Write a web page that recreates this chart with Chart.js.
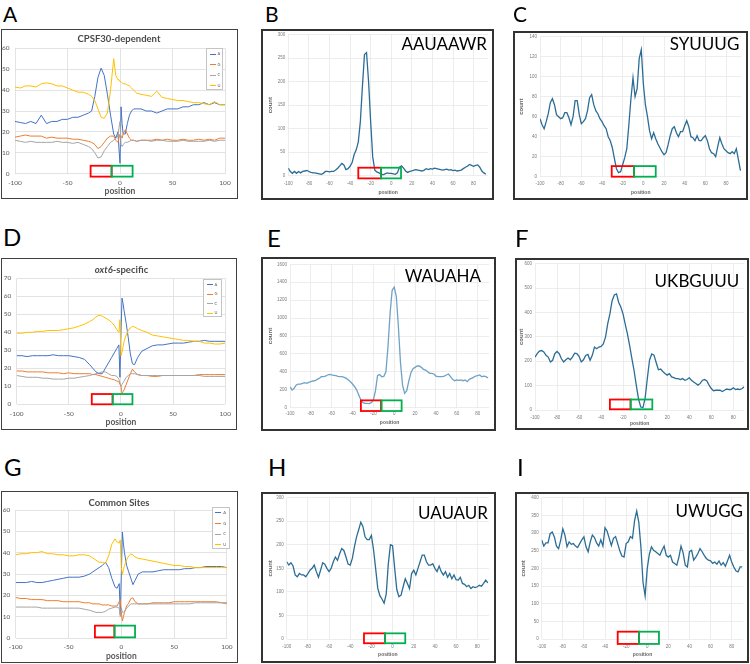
<!DOCTYPE html>
<html>
<head>
<meta charset="utf-8">
<script src="https://cdn.jsdelivr.net/npm/chart.js@4.4.1/dist/chart.umd.min.js"></script>
<style>
  body { margin: 0; width: 750px; height: 664px; position: relative; background: #fff; overflow: hidden; font-family: Lato, sans-serif; }
  .panel { position: absolute; }
  .panel canvas { position: absolute; left: 0; top: 0; }
  .frame { position: absolute; left: 0; top: 0; right: 0; bottom: 0; box-sizing: border-box; border-style: solid; pointer-events: none; }
  .lbl { position: absolute; white-space: nowrap; line-height: 1; }
  .legend { position: absolute; box-sizing: border-box; border: 0.8px solid #c4c4c4; background: #fff; }
</style>
</head>
<body>
<script>
// ---- data ----
const NUC_NAMES = ['A', 'G', 'C', 'U'];
const NUC_X_TICKS = [-100, -50, 0, 50, 100];
const MOTIF_X_TICKS = [-100, -80, -60, -40, -20, 0, 20, 40, 60, 80];

// positions used by the nucleotide profile panels (A, D, G)
const POS_NUC = [-100,-95,-90,-85,-80,-75,-70,-65,-60,-55,-50,-45,-40,-35,-30,
  -27,-24,-21,-18,-15,-12,-9,-6, -4,-2,-1,0,1,2,3, 5,7,9,11,13,16,20,
  25,30,35,40,45,50,55,60,65,70,75,80,85,90,95,100];

// positions used by the motif count panels
const POS_MOTIF = [-100,-98,-96,-94,-92,-90,-88,-86,-84,-82,-80,-78,-76,-74,-72,-70,-68,-66,-64,-62,
  -60,-58,-56,-54,-52,-50,-48,-46,-44,-42,-40,-38,-36,-34,-32,-30,-28,-26,-24,-22,
  -20,-18,-16,-14,-12,-10,-8,-6,-4,-2,0,2,4,6,8,10,12,14,16,18,
  20,22,24,26,28,30,32,34,36,38,40,42,44,46,48,50,52,54,56,58,
  60,62,64,66,68,70,72,74,76,78,80,82,84,86,88,90,92,94];

// A: CPSF30-dependent
const CPSF_A = [25,24.5,24,25,24,28,24,25,25,26,26,27,27,28,29, 30,37,46,50.5,47,38,28,19, 17,20,12,5,32,24,19, 19,24,28,30,31,31,31, 30,30,29,30,31,31,31,32,32,33,33,34,33,34,33,33];
const CPSF_G = [17.5,18,18.5,18,18,18,17,17.5,17,17,17,16.5,16.5,16,15.5, 15,14,12,13,15,17,18,18, 16,15,17,19,18,17,19, 21,19,17,16,16,15.5,16, 16,16,16.5,16,16.5,16,16,16.5,16,16,16.5,16,16.5,16,17,17];
const CPSF_C = [16,15.5,15,15.5,15,15,15,15,15.5,15,15,14.5,15,14,13, 12,10,7.5,8,11,13,15,16, 17,18,22,25,14,13,14, 15,15,15.5,16,16,15.5,16, 16,15.5,16,16,15.5,15.5,15.5,16,15.5,15.5,15.5,15.5,16,15.5,16,16];
const CPSF_U = [41.5,41,42,42,41.5,43,43.5,43,42,42,41,40,39,39,38, 37,35,31,27,26.5,29,40,55, 47,45,45,44,44,43.5,43, 43,42.5,42,41,40,38.5,38, 37.5,37,39.5,36.5,36,35.5,35,35,34.5,34,34,33.5,33,34.5,33,33];

// D: oxt6-specific
const OXT_A = [27,27,26.5,27,27,27,27,27.5,27,27,27,26.5,26,25,22, 20,18,17,17,20,23,26,29, 31,33,15,40,59,56,52, 45,37,28,22.5,22,26,29.5, 31,32.5,33,33,33.5,34,34,34,34.5,35,35,35.5,35,35,35,35];
const OXT_G = [18.5,18.5,18,18,18,18,17.5,17.5,17.5,17,17.5,17,17,17,17, 16.5,16.5,16,15.5,15,14.5,14,13.5, 13,12.5,11,10,6,7,8, 11,14,17,19.5,18,16.5,16, 16,15.5,15.5,16,16,16,16,16,16,16,16.5,16.5,16.5,16.5,16.5,16.5];
const OXT_C = [16,15.5,15,15,15,14.5,14.5,14,14,14,14.5,14.5,15,15.5,16, 16.5,17,17.5,18,18,17,16,16, 15.5,14,12,10,11,12,13, 15,16,17,17,17,16.5,16, 16,16,16,16,16,16,16,16,16,16,16,15.5,15.5,15.5,15.5,15.5];
const OXT_U = [39.5,39.5,40,40,40.5,40.5,41,41,41,41.5,42,42.5,43.5,44.5,46, 47,48.5,49.5,49,48,47,45.5,43.5, 41.5,40,47,27,29,32,35, 38.5,41,42.5,43.3,43,42,41, 40,38.5,38,37.5,37,36.5,36,35.5,35.5,35,35,34,34,33.5,33.5,34];

// G: Common Sites
const COMMON_A = [26,26,26,26.5,26,26,26.5,27,27.5,28,28.5,28.5,28.5,29,30, 31,32,33,34,35.5,33,28,24, 23.3,25.5,11,30,49.7,44,40, 34,31,28,25,27,30,31, 31,31,31.5,32,32,32,32,32.5,32.5,33,33,33.5,33.5,33.5,33.5,33];
const COMMON_G = [19,18.5,18.5,18,18,18,17.5,17.5,17.5,17,17,17,17,16.5,16.5, 16,16,16,15.5,15.5,15.5,15,15, 15,17,18,12,8,10,12, 15,16.3,18.5,18.8,17,16,16, 16,16.5,16.5,16.5,16.5,17,17,17,17,17,17,17,17,17,16.5,16.5];
const COMMON_C = [14.5,14.5,14.5,14.5,14.5,14,14,14,14,14,14,14,14,13.5,13, 12.5,12,12,12,12.5,13.5,14,14.5, 14.5,14,10,14,12,12,12.5, 14,15,16,16,16,16,16, 16,16,16,16,16,16,16,16,16,16.5,16.5,16.5,16.5,16.5,16.5,16];
const COMMON_U = [39,39.5,39.5,40,40,40.5,39.5,39.5,39,39,38.5,38.5,39,39,38.5, 37.5,36.5,35.5,35.5,35,38.5,44,46.5, 45,44.5,46,33,29.8,32,34, 36.6,38.5,39.4,39,38,37.3,37, 36.5,36,35.5,35,34.5,34,34,33.5,33.5,33,33,33,33,33,33,33];

// motif counts
const AAUAAWR = [16,9,5,9,5,9,6,9,10,11, 9,7,6,6,5,4,3,5,9,9, 8,9,9,12,16,21,26,23,13,15,
  20,28,45,55,72,115,190,258,262,200, 115,40,12,8,6,4,2,4,6,5, 5,4,3,6,18,21,16,10,7,9,
  10,12,13,12,11,10,12,15,13,15, 14,16,15,14,13,12,13,14,12,13, 11,12,10,11,12,15,18,20,24,22, 20,22,23,18,10,6,3];
const SYUUUG = [58,52,48,55,63,74,78,72,62,60, 58,59,64,64,59,52,60,76,76,62, 53,55,58,66,79,82,72,66,63,58,
  55,51,48,40,36,29,18,8,4,5, 12,19,28,52,78,99,80,88,118,127, 93,72,60,46,38,44,38,33,29,25,
  22,24,32,41,48,50,44,40,45,45, 51,56,50,40,39,36,41,36,36,39, 41,36,28,24,23,20,30,39,33,28, 26,24,23,25,23,28,17,6];
const WAUAHA = [234,197,216,253,264,264,272,279,272,283, 290,298,301,316,327,346,346,353,365,372, 365,361,357,350,346,346,339,327,309,290,
  264,234,197,141,86,56,48,48,45,56, 86,190,360,370,345,350,400,680,1050,1310, 1345,1240,900,500,250,160,190,300,390,435,
  450,465,465,450,428,420,402,383,383,376, 353,346,346,346,353,365,376,346,316,301, 309,305,309,301,309,290,316,327,339,353, 357,365,346,353,346,331];
const UKBGUUU = [217,231,242,244,238,224,217,197,204,231, 240,231,210,197,206,213,206,217,233,231, 220,197,206,224,228,204,224,258,251,258,
  261,271,299,353,394,448,472,476,441,421, 392,350,310,262,210,160,100,45,12,10, 50,130,205,230,225,195,165,168,158,150,
  143,149,136,133,129,129,125,129,122,125, 132,122,115,109,102,109,122,125,119,102, 88,79,81,81,81,76,81,86,84,84, 91,84,86,84,88,95];
const UAUAUR = [164,157,162,155,136,132,139,136,136,132, 139,146,150,157,143,131,146,162,159,150, 143,150,164,174,167,181,192,188,174,159,
  157,171,196,217,232,248,239,217,211,211, 220,190,150,108,92,85,76,95,160,200, 198,150,105,90,93,111,128,118,107,139,
  146,136,150,164,178,178,164,157,157,160, 150,143,155,143,136,143,131,139,128,136, 126,125,131,118,116,111,114,107,111,109, 111,114,112,118,125,119];
const UWUGG = [280,263,272,272,298,303,289,263,256,280, 312,294,261,275,268,270,263,259,270,281, 289,261,247,275,294,287,272,263,281,263,
  315,305,285,265,285,290,270,250,235,232, 270,275,290,285,335,362,330,260,160,122, 200,240,261,251,247,242,237,251,263,237,
  232,237,218,214,209,232,263,244,209,204, 247,251,223,232,242,256,247,237,228,223, 221,214,218,212,221,209,216,206,221,237, 218,204,193,190,204,204];

const Y_TICKS_60 = [0,10,20,30,40,50,60];
const Y_TICKS_70 = [0,10,20,30,40,50,60,70];
const Y_TICKS_300 = [0,50,100,150,200,250,300];
const Y_TICKS_140 = [0,20,40,60,80,100,120,140];
const Y_TICKS_1600 = [0,200,400,600,800,1000,1200,1400,1600];
const Y_TICKS_600 = [0,100,200,300,400,500,600];
const Y_TICKS_400 = [0,50,100,150,200,250,300,350,400];

// ---- layout / style ----
Chart.defaults.font.family = 'Lato';
const NUC_COLORS = ['#4472C4', '#ED7D31', '#A5A5A5', '#FFC000'];

const NUC_PANELS = [
  { box: [1, 29, 237, 170], plot: [15, 225, 48.3, 173.7], yTicks: Y_TICKS_60, series: [CPSF_A, CPSF_G, CPSF_C, CPSF_U],
    title: 'CPSF30-dependent', titleAt: [119, 38], legend: [206, 48, 17, 42], xTitleY: 191.7, xPad: 5.4,
    sites: { red: [-28, -8], green: [-8, 12], y: [-1.4, 3.8] } },
  { box: [1, 258, 236, 172], plot: [16.7, 227.7, 278.3, 404.3], yTicks: Y_TICKS_70, series: [OXT_A, OXT_G, OXT_C, OXT_U],
    title: '<i>oxt6</i>-specific', titleAt: [121.5, 269], legend: [203, 279, 19, 38], xTitleY: 422.7, xPad: 6.1,
    sites: { red: [-28, -8], green: [-8, 11], y: [0, 5.7] } },
  { box: [1, 491, 237, 172], plot: [15.7, 230, 510, 638], yTicks: Y_TICKS_60, series: [COMMON_A, COMMON_G, COMMON_C, COMMON_U],
    title: 'Common Sites', titleAt: [119, 502], legend: [211.7, 506.7, 18.3, 42.3], xTitleY: 656.7, xPad: 5.4,
    sites: { red: [-25, -6.5], green: [-6.5, 13], y: [0.3, 5.8] } }
];

const MOTIF_PANELS = [
  { box: [261, 29, 233, 171], plot: [288.3, 488, 34.7, 175.7], xMax: 94, yTicks: Y_TICKS_300, values: AAUAAWR, color: '#2c6d95',
    motif: 'AAUAAWR', motifAt: [487, 43.3], yTitleX: 270, xTitleY: 192.3, xPad: 4.9,
    sites: { red: [-32, -10], green: [-10, 9.5], y: [-5.7, 17] } },
  { box: [513, 31, 235, 169], plot: [540, 741.5, 36, 176.7], xMax: 95, yTicks: Y_TICKS_140, values: SYUUUG, color: '#2c6d95',
    motif: 'SYUUUG', motifAt: [739.3, 43.3], yTitleX: 521.7, xTitleY: 192.3, xPad: 4,
    sites: { red: [-30.6, -9], green: [-9, 12], y: [0, 10.6] } },
  { box: [261, 257, 235, 174], plot: [290, 489.1, 264.3, 407.7], xMax: 91, yTicks: Y_TICKS_1600, values: WAUAHA, color: '#6fa2c6',
    motif: 'WAUAHA', motifAt: [481, 275], yTitleX: 270, xTitleY: 422.7, xPad: 2.9,
    sites: { red: [-32, -12.7], green: [-12.1, 7.1], y: [-37, 82] } },
  { box: [515, 258, 234, 172], plot: [535, 744.3, 262.7, 410], xMax: 90, yTicks: Y_TICKS_600, values: UKBGUUU, color: '#2c6d95',
    motif: 'UKBGUUU', motifAt: [739.3, 280], yTitleX: 521, xTitleY: 424, xPad: 4.6,
    sites: { red: [-32, -13.2], green: [-13.2, 6.5], y: [3, 43] } },
  { box: [261, 492, 235, 171], plot: [286.7, 488.9, 497.3, 639], xMax: 91, yTicks: Y_TICKS_300, values: UAUAUR, color: '#2c6d95',
    motif: 'UAUAUR', motifAt: [488, 511.7], yTitleX: 270, xTitleY: 655, xPad: 5,
    sites: { red: [-27, -7.2], green: [-7.2, 12], y: [-9, 12] } },
  { box: [515, 492, 234, 171], plot: [541.7, 743.3, 497.3, 639], xMax: 91, yTicks: Y_TICKS_400, values: UWUGG, color: '#2c6d95',
    motif: 'UWUGG', motifAt: [743, 510], yTitleX: 523, xTitleY: 655, xPad: 5,
    sites: { red: [-28, -7.8], green: [-7.8, 11.1], y: [-14, 20.7] } }
];

const LETTERS = [
  ['A', 3, 12.5, 21], ['B', 265, 12.5, 21], ['C', 513, 12.5, 21],
  ['D', 3, 236, 24], ['E', 267, 237, 24], ['F', 515, 237, 24],
  ['G', 4, 466, 24], ['H', 268, 466, 24], ['I', 517, 466, 24]
];

// red / green site boxes, drawn in data units through the chart scales
const sitesPlugin = {
  id: 'sites',
  afterDatasetsDraw(chart, args, opts) {
    const { ctx, scales: { x, y } } = chart;
    const y1 = y.getPixelForValue(opts.y[0]), y2 = y.getPixelForValue(opts.y[1]);
    ctx.save();
    ctx.lineWidth = 1.8;
    [['red', '#ff0000'], ['green', '#00b050']].forEach(([k, col]) => {
      const x1 = x.getPixelForValue(opts[k][0]), x2 = x.getPixelForValue(opts[k][1]);
      ctx.strokeStyle = col;
      ctx.strokeRect(x1, y2, x2 - x1, y1 - y2);
    });
    ctx.restore();
  }
};

function label(html, x, y, css, anchor) {
  const d = document.createElement('div');
  d.className = 'lbl';
  d.innerHTML = html;
  d.style.cssText += css + `;left:${x}px;top:${y}px;`;
  const tx = anchor === 'r' ? '-100%' : anchor === 'l' ? '0' : '-50%';
  d.style.transform = `translate(${tx},-50%)`;
  document.body.appendChild(d);
}

function pairs(xs, ys) {
  return ys.map((v, i) => ({ x: xs[i], y: v }));
}

function makeChart(p, datasets, o) {
  const [bx, by, bw, bh] = p.box;
  const wrap = document.createElement('div');
  wrap.className = 'panel';
  wrap.style.cssText = `left:${bx}px;top:${by}px;width:${bw}px;height:${bh}px;`;
  const cv = document.createElement('canvas');
  cv.width = bw; cv.height = bh;
  cv.style.width = bw + 'px'; cv.style.height = bh + 'px';
  wrap.appendChild(cv);
  const fr = document.createElement('div');
  fr.className = 'frame';
  fr.style.borderWidth = o.frameW + 'px';
  fr.style.borderColor = o.frameColor;
  wrap.appendChild(fr);
  document.body.appendChild(wrap);

  const pl = p.plot[0] - bx, pr = p.plot[1] - bx, pt = p.plot[2] - by, pb = p.plot[3] - by;
  const xt = p.xTitleY - by;
  const xlh = o.xTitleSize * 1.2;
  const padB = bh - (xt + xlh / 2);
  const padL = o.yTitle ? (p.yTitleX - bx - o.yTitleSize * 1.2 / 2) : 0;

  new Chart(cv, {
    type: 'line',
    data: { datasets },
    options: {
      responsive: false,
      animation: false,
      devicePixelRatio: 1,
      layout: { padding: { left: padL, right: bw - pr, top: pt, bottom: padB } },
      plugins: { legend: { display: false }, tooltip: { enabled: false }, sites: p.sites },
      elements: { point: { radius: 0 }, line: { tension: 0 } },
      scales: {
        x: {
          type: 'linear', min: -100, max: o.xMax,
          afterBuildTicks: s => { s.ticks = o.xTicks.map(v => ({ value: v })); },
          afterFit: s => { s.height = xt + xlh / 2 - pb; },
          grid: { color: o.gridColor, lineWidth: 0.8, drawTicks: false },
          border: { display: false },
          ticks: { padding: p.xPad, autoSkip: false, maxRotation: 0, color: o.tickColor,
                   font: { size: o.tickSize, family: o.tickFamily }, callback: v => String(v) },
          title: { display: true, text: 'position', padding: 0, color: o.titleColor,
                   font: { size: o.xTitleSize, weight: 'bold', family: o.titleFamily } }
        },
        y: {
          type: 'linear', min: 0, max: p.yTicks[p.yTicks.length - 1],
          afterBuildTicks: s => { s.ticks = p.yTicks.map(v => ({ value: v })); },
          afterFit: s => { s.width = pl - padL; },
          grid: { color: o.gridColor, lineWidth: 0.8, drawTicks: false },
          border: { display: false },
          ticks: { padding: o.yPad, color: o.tickColor, font: { size: o.tickSize, family: o.tickFamily },
                   callback: v => String(v) },
          title: { display: !!o.yTitle, text: 'count', padding: 0, color: o.titleColor,
                   font: { size: o.yTitleSize, weight: 'bold', family: o.titleFamily } }
        }
      }
    },
    plugins: [sitesPlugin]
  });
}

NUC_PANELS.forEach(p => {
  const datasets = p.series.map((vals, i) => ({
    label: NUC_NAMES[i],
    data: pairs(POS_NUC, vals),
    borderColor: NUC_COLORS[i],
    borderWidth: 1,
    order: 4 - i
  }));
  makeChart(p, datasets, {
    xMax: 100, xTicks: NUC_X_TICKS, frameW: 1.5, frameColor: '#404040',
    gridColor: '#dcdcdc', tickColor: '#595959', tickSize: 6.5, tickFamily: 'Lato', yPad: 5.5,
    titleColor: '#595959', titleFamily: 'Lato', xTitleSize: 8.5, yTitle: false, yTitleSize: 0
  });
  label(p.title, p.titleAt[0], p.titleAt[1], 'font:bold 9.5px Lato;color:#4a4a4a', 'c');
  const [lx, ly, lw, lh] = p.legend;
  const lg = document.createElement('div');
  lg.className = 'legend';
  lg.style.cssText = `left:${lx}px;top:${ly}px;width:${lw}px;height:${lh}px;`;
  NUC_NAMES.forEach((n, i) => {
    const cy = (i + 0.5) * lh / 4;
    const ln = document.createElement('div');
    ln.style.cssText = `position:absolute;left:2.5px;top:${cy - 0.5}px;width:6px;height:1px;background:${NUC_COLORS[i]}`;
    const tx = document.createElement('div');
    tx.textContent = n;
    tx.style.cssText = `position:absolute;left:10.5px;top:${cy}px;transform:translateY(-50%);font:4px Lato;line-height:1;color:#595959`;
    lg.appendChild(ln); lg.appendChild(tx);
  });
  document.body.appendChild(lg);
});

MOTIF_PANELS.forEach(p => {
  const datasets = [{
    label: p.motif,
    data: pairs(POS_MOTIF, p.values),
    borderColor: p.color,
    borderWidth: 1.3
  }];
  makeChart(p, datasets, {
    xMax: p.xMax, xTicks: MOTIF_X_TICKS, frameW: 2, frameColor: '#333333',
    gridColor: '#e9e9e9', tickColor: '#7a7a7a', tickSize: 4.5, tickFamily: 'Liberation Sans', yPad: 3,
    titleColor: '#666666', titleFamily: 'Liberation Sans', xTitleSize: 5, yTitle: true, yTitleSize: 6
  });
  label(p.motif, p.motifAt[0], p.motifAt[1], 'font:17px Lato;color:#000', 'r');
});

LETTERS.forEach(([t, x, y, s]) => label(t, x, y, `font:${s}px Lato;color:#000`, 'l'));
</script>
</body>
</html>
